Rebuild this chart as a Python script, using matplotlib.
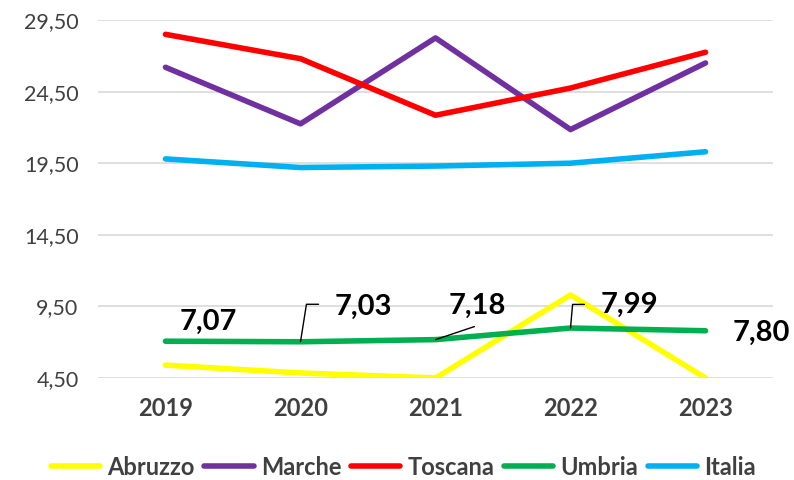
import numpy as np
import matplotlib.pyplot as plt

plt.rcParams['font.family'] = ['Lato', 'DejaVu Sans']

anni = ['2019', '2020', '2021', '2022', '2023']
abruzzo = [5.40, 4.85, 4.50, 10.30, 4.50]
marche = [26.20, 22.25, 28.25, 21.85, 26.50]
toscana = [28.50, 26.80, 22.85, 24.75, 27.25]
umbria = [7.07, 7.03, 7.18, 7.99, 7.80]
italia = [19.80, 19.20, 19.30, 19.50, 20.30]

serie = [('Abruzzo', abruzzo, '#FFFF00'),
         ('Marche', marche, '#7030A0'),
         ('Toscana', toscana, '#FF0000'),
         ('Umbria', umbria, '#00B050'),
         ('Italia', italia, '#00B0F0')]

grigio = '#404040'

fig = plt.figure(figsize=(7.94, 4.80), dpi=100)
ax = fig.add_axes([0.1234, 0.2125, 0.8502, 0.7458])

x = np.arange(len(anni))
for nome, valori, colore in serie:
    ax.plot(x, valori, color=colore, lw=4, label=nome,
            solid_capstyle='round', solid_joinstyle='round', zorder=3)

ax.set_xlim(-0.5, len(anni) - 0.5)
ax.set_ylim(4.5, 29.5)
yt = np.arange(4.5, 29.6, 5)
ax.set_yticks(yt)
ax.set_yticklabels([f'{v:.2f}'.replace('.', ',') for v in yt],
                   fontsize=15.5, color=grigio)
ax.set_xticks(x)
ax.set_xticklabels(anni, fontsize=17, fontweight='bold', color=grigio)
ax.tick_params(length=0)
ax.tick_params(axis='x', pad=14)
ax.tick_params(axis='y', pad=14)
ax.grid(axis='y', color='#d9d9d9', lw=1.2, zorder=0)
for s in ax.spines.values():
    s.set_visible(False)

# etichette Umbria (offset in punti) e linee guida
offs_testo = [(31, 14), (45, 25), (30, 24.5), (42.5, 16.6), (40, -1.4)]
for i, v in enumerate(umbria):
    ax.annotate(f'{v:.2f}'.replace('.', ','), xy=(i, v),
                xytext=offs_testo[i], textcoords='offset points',
                ha='center', va='center', fontsize=21, fontweight='bold',
                color='black', zorder=5)

guide = {1: ((13, 27), 'angle,angleA=0,angleB=81'),
         2: ((28, 9.4), 'arc3'),
         3: ((10, 17), 'angle,angleA=0,angleB=85')}
for i, (off, stile) in guide.items():
    ax.annotate('', xy=(i, umbria[i]), xytext=off, textcoords='offset points',
                arrowprops=dict(arrowstyle='-', connectionstyle=stile,
                                color='black', lw=1, shrinkA=0, shrinkB=0),
                zorder=4)

fig.legend(loc='center', bbox_to_anchor=(0.508, 0.027), ncol=5, frameon=False,
           prop={'size': 17, 'weight': 'bold'}, labelcolor=grigio,
           handlelength=2.1, handletextpad=0.3, columnspacing=0.4)

fig.savefig('out.png', dpi=100)
